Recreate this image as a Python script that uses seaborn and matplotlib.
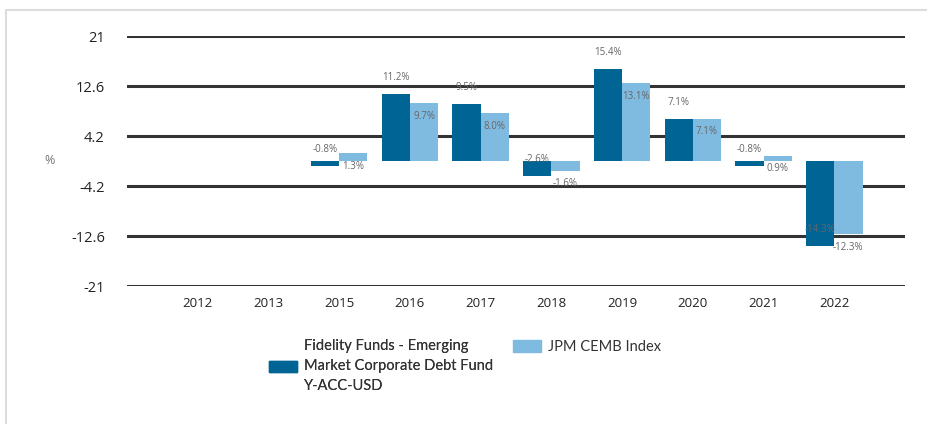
import seaborn as sns
import matplotlib.pyplot as plt
import matplotlib
import pandas as pd
import numpy as np
from matplotlib.patches import Patch, Rectangle
matplotlib.use('Agg')

years = ["2012", "2013", "2015", "2016", "2017", "2018", "2019", "2020", "2021", "2022"]
fund_name = "Fidelity Funds - Emerging\nMarket Corporate Debt Fund\nY-ACC-USD"
index_name = "JPM CEMB Index"
fund_values = [np.nan, np.nan, -0.8, 11.2, 9.5, -2.6, 15.4, 7.1, -0.8, -14.3]
index_values = [np.nan, np.nan, 1.3, 9.7, 8.0, -1.6, 13.1, 7.1, 0.9, -12.3]
y_ticks = [21, 12.6, 4.2, -4.2, -12.6, -21]

dark = "#006494"
light = "#7fbbe1"

sns.set_style("white")
plt.rcParams['font.family'] = ['Open Sans', 'DejaVu Sans']

df = pd.DataFrame({
    "year": years * 2,
    "series": [fund_name] * len(years) + [index_name] * len(years),
    "value": fund_values + index_values,
}).dropna()

fig = plt.figure(figsize=(9.28, 4.24), dpi=100)
ax = fig.add_axes([127 / 928, 1 - 286 / 424, (905 - 127) / 928, 250 / 424])

sns.barplot(data=df, x="year", y="value", hue="series", order=years,
            hue_order=[fund_name, index_name], palette=[dark, light],
            errorbar=None, width=0.8, gap=0, saturation=1, legend=False,
            linewidth=0, ax=ax)

ax.set_xlim(-1, len(years))
ax.set_ylim(-21, 21)
ax.set_yticks(y_ticks)
ax.set_yticklabels(["21", "12.6", "4.2", "-4.2", "-12.6", "-21"])
for y in y_ticks:
    ax.axhline(y, color="#333333", lw=2.2, zorder=0)
ax.tick_params(axis="y", length=0, pad=16, labelsize=10.5, labelcolor="#222222")
ax.tick_params(axis="x", length=0, pad=8, labelsize=9.5, labelcolor="#222222")
for s in ax.spines.values():
    s.set_visible(False)
ax.set_xlabel("")
ax.set_ylabel("")
fig.text(50 / 928, 1 - 160 / 424, "%", ha="center", va="center",
         fontsize=9, color="#777777")

# value labels: fund above bar end, index below bar end
offsets = [12, -9.5]
for cont, off in zip(ax.containers, offsets):
    for bar in cont:
        h = bar.get_height()
        if np.isnan(h):
            continue
        ax.annotate(f"{h:.1f}%", (bar.get_x() + bar.get_width() / 2, h),
                    xytext=(0, off), textcoords="offset points",
                    ha="center", va="center", fontsize=7, color="#666666")

leg_font = {"family": ["Lato", "DejaVu Sans"], "size": 10.5}
leg1 = fig.legend(handles=[Patch(color=dark, label=fund_name)], loc="center left",
                  bbox_to_anchor=(269 / 928, 1 - 366 / 424), frameon=False,
                  prop=leg_font, handlelength=1.9, handleheight=0.8,
                  handletextpad=0.5, borderpad=0, borderaxespad=0,
                  labelcolor="#333333")
leg1.get_texts()[0].set_linespacing(1.55)
leg2 = fig.legend(handles=[Patch(color=light, label=index_name)], loc="center left",
                  bbox_to_anchor=(513 / 928, 1 - 347 / 424), frameon=False,
                  prop=leg_font, handlelength=1.9, handleheight=0.8,
                  handletextpad=0.5, borderpad=0, borderaxespad=0,
                  labelcolor="#333333")
fig.add_artist(leg1)

# card frame
fig.patches.append(Rectangle((6 / 928, -0.1), 1.2, 1.1 - 10 / 424,
                             transform=fig.transFigure, fill=False,
                             edgecolor="#dcdcdc", lw=1.5))

plt.savefig("out.png", dpi=100)
